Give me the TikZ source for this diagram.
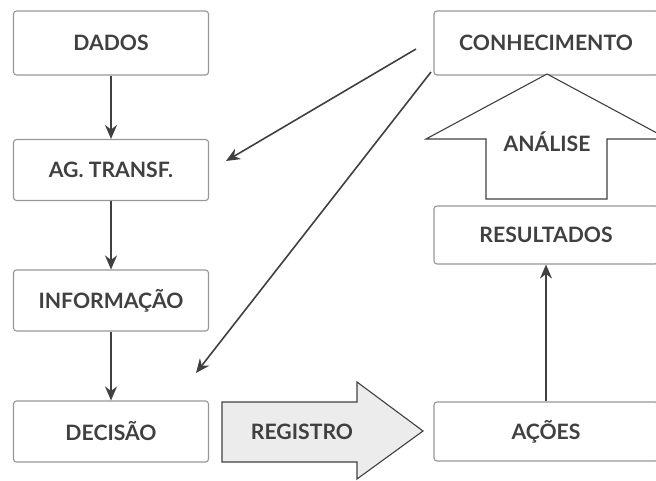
\documentclass[tikz,border=0pt]{standalone}
\usepackage{fontspec}
\setmainfont{Lato}
\usetikzlibrary{positioning,arrows.meta}
\definecolor{boxgray}{RGB}{150,150,150}
\definecolor{inkgray}{RGB}{64,64,64}
\definecolor{shadegray}{RGB}{236,236,236}
\tikzset{
  stepbox/.style={draw=boxgray,line width=0.55pt,rounded corners=1.5pt,
    minimum width=97.5pt,minimum height=30.5pt,inner sep=0pt,
    text=inkgray,font=\bfseries\fontsize{10.6}{12}\selectfont},
  widebox/.style={stepbox,minimum width=112pt},
  link/.style={draw=inkgray,line width=0.8pt,-{Stealth[length=7pt,width=6pt]}},
  bigarrow/.style={draw=inkgray,line width=0.55pt,line join=miter},
  arrowtext/.style={text=inkgray,font=\bfseries\fontsize{10.6}{12}\selectfont}
}
\begin{document}
\begin{tikzpicture}[x=0.5pt,y=-0.5pt]
  \useasboundingbox (0,0) rectangle (656,480);
  \clip (0,0) rectangle (656,480);

  % left column
  \node[stepbox,minimum height=32pt] (dados) at (111,43) {DADOS};
  \node[stepbox] (transf) at (111,170) {AG. TRANSF.};
  \node[stepbox] (info) at (111,300.5) {INFORMAÇÃO};
  \node[stepbox] (decisao) at (111,431.5) {DECISÃO};

  % right column
  \node[widebox,minimum height=32pt] (conhec) at (546,43) {CONHECIMENTO};
  \node[widebox,minimum height=29pt] (result) at (546,235) {RESULTADOS};
  \node[widebox,minimum height=29.5pt] (acoes) at (546,431.5) {AÇÕES};

  % block arrows
  \draw[bigarrow,fill=shadegray] (222,402) -- (357,402) -- (357,382) -- (423,431)
    -- (357,479) -- (357,462) -- (222,462) -- cycle;
  \node[arrowtext] (registro) at (302,431.5) {REGISTRO};
  \draw[bigarrow,fill=white] (486,199) -- (486,139) -- (426,139) -- (547,74)
    -- (668,139) -- (607,139) -- (607,199) -- cycle;
  \node[arrowtext] (analise) at (547,142) {ANÁLISE};

  % connectors
  \draw[link] (dados) -- (transf);
  \draw[link] (transf) -- (info);
  \draw[link] (info) -- (decisao);
  \draw[link] (acoes) -- (result);

  \coordinate (k1) at (416,49);
  \coordinate (k2) at (431,72);
  \coordinate (t1) at (226,161);
  \coordinate (t2) at (196,373);
  \draw[link] (k1) -- (t1);
  \draw[link] (k2) -- (t2);
\end{tikzpicture}
\end{document}
